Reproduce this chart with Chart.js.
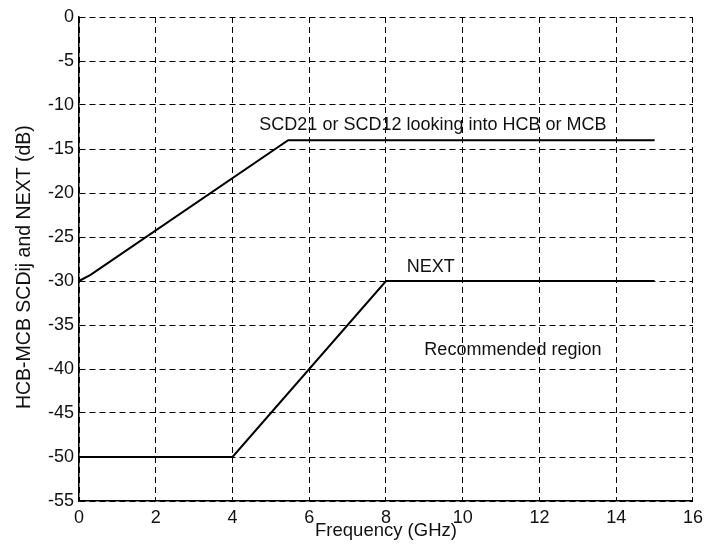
<!DOCTYPE html>
<html>
<head>
<meta charset="utf-8">
<script src="https://cdn.jsdelivr.net/npm/chart.js@4/dist/chart.umd.min.js"></script>
<style>
  html, body { margin: 0; padding: 0; background: #fff; }
</style>
</head>
<body>
<canvas id="myChart" width="709" height="551"></canvas>
<script>
// curves (GHz, dB)
const scdFreq = [0, 0.3, 5.45, 15];
const scdDb = [-30, -29.3, -14, -14];
const nextFreq = [0, 4, 8, 15];
const nextDb = [-50, -50, -30, -30];

// text placed inside the plot: [text, freq, dB]
const noteText = ["SCD21 or SCD12 looking into HCB or MCB", "NEXT", "Recommended region"];
const noteFreq = [4.7, 8.54, 9.0];
const noteDb = [-12.3, -28.4, -37.8];

const FONT = '"Liberation Sans", Arial, sans-serif';

const toPoints = (xs, ys) => xs.map((x, i) => ({x: x, y: ys[i]}));

// draw the in-plot notes at data coordinates
const notesPlugin = {
  id: 'notes',
  afterDatasetsDraw(chart) {
    const {ctx, scales: {x, y}} = chart;
    ctx.save();
    ctx.font = '18px ' + FONT;
    ctx.fillStyle = '#111';
    ctx.textAlign = 'left';
    ctx.textBaseline = 'middle';
    noteText.forEach((t, i) => {
      ctx.fillText(t, x.getPixelForValue(noteFreq[i]), y.getPixelForValue(noteDb[i]));
    });
    ctx.restore();
  }
};

var myChart = new Chart(document.getElementById("myChart"), {
  type: 'line',
  data: {
    datasets: [{
      label: "SCD21 or SCD12",
      data: toPoints(scdFreq, scdDb),
      borderColor: "#000",
      borderWidth: 2,
      pointRadius: 0,
      fill: false,
      tension: 0
    }, {
      label: "NEXT",
      data: toPoints(nextFreq, nextDb),
      borderColor: "#000",
      borderWidth: 2,
      pointRadius: 0,
      fill: false,
      tension: 0
    }]
  },
  options: {
    responsive: false,
    animation: false,
    layout: {
      padding: {left: 0, right: 15, top: 17, bottom: 0}
    },
    plugins: {
      legend: {display: false},
      tooltip: {enabled: false}
    },
    scales: {
      x: {
        type: 'linear',
        min: 0,
        max: 16,
        afterFit: function(scale) { scale.height = 50; },
        ticks: {
          stepSize: 2,
          padding: 6,
          color: '#111',
          font: {family: FONT, size: 18}
        },
        grid: {color: '#000', lineWidth: 1, drawTicks: false},
        border: {display: true, color: '#000', width: 1.5, dash: [6, 4]},
        title: {
          display: true,
          text: 'Frequency (GHz)',
          color: '#111',
          font: {family: FONT, size: 18.5},
          padding: {top: 0, bottom: 9}
        }
      },
      y: {
        type: 'linear',
        min: -55,
        max: 0,
        afterFit: function(scale) { scale.width = 79; },
        ticks: {
          stepSize: 5,
          padding: 5,
          color: '#111',
          font: {family: FONT, size: 18}
        },
        grid: {color: '#000', lineWidth: 1, drawTicks: false},
        border: {display: true, color: '#000', width: 1.5, dash: [6, 4]},
        title: {
          display: true,
          // trailing spaces nudge the rotated title down a little, as in the original
          text: 'HCB-MCB SCDij and NEXT (dB)\u00a0\u00a0\u00a0',
          color: '#111',
          font: {family: FONT, size: 19.5},
          padding: {top: 13, bottom: 0}
        }
      }
    }
  },
  plugins: [notesPlugin]
});
</script>
</body>
</html>
